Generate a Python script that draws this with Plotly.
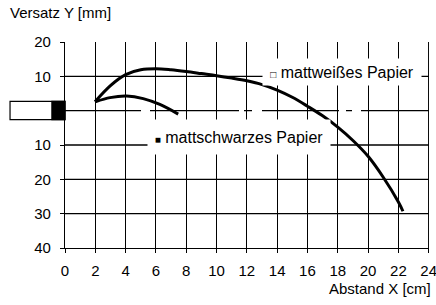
import plotly.graph_objects as go

# ---- data ----
white_x = [1.98, 3.0, 4.0, 5.0, 6.0, 7.0, 8.0, 9.0, 10.0, 11.0, 12.0, 13.0, 14.0, 15.0, 16.0,
           17.0, 18.0, 19.0, 20.0, 21.0, 22.0, 22.3]
white_y = [2.6, 7.3, 10.5, 11.9, 12.2, 11.9, 11.4, 10.8, 10.2, 9.5, 8.7, 7.6, 6.0, 3.9, 1.3,
           -1.5, -4.8, -8.7, -13.3, -19.4, -26.6, -29.3]
black_x = [2.0, 2.97, 4.07, 5.16, 6.26, 7.47]
black_y = [2.6, 3.8, 4.25, 3.5, 1.8, -1.0]

x_ticks = [0, 2, 4, 6, 8, 10, 12, 14, 16, 18, 20, 22, 24]
y_ticks = [20, 10, 0, -10, -20, -30, -40]
y_ticktext = ["20", "10", "", "10", "20", "30", "40"]
h_grid = [10, -10, -20, -30]
x_right = 24

label_white = "<span style='font-size:10px'>□</span> mattweißes Papier"
label_black = "<span style='font-size:10px'>■</span> mattschwarzes Papier"

FONT = "Liberation Sans, Arial, sans-serif"

fig = go.Figure()
fig.add_trace(go.Scatter(x=white_x, y=white_y, mode="lines",
                         line=dict(color="black", width=3, shape="spline", smoothing=1.0),
                         showlegend=False, hoverinfo="skip"))
fig.add_trace(go.Scatter(x=black_x, y=black_y, mode="lines",
                         line=dict(color="black", width=3, shape="spline", smoothing=0.9),
                         showlegend=False, hoverinfo="skip"))

shapes = []
for gy in h_grid:
    shapes.append(dict(type="line", xref="paper", x0=0, x1=1, yref="y", y0=gy, y1=gy,
                       line=dict(color="black", width=1.3), layer="below"))
# right border gridline
shapes.append(dict(type="line", xref="x", x0=x_right, x1=x_right, yref="paper", y0=0, y1=1,
                   line=dict(color="black", width=1.3), layer="below"))
# dashed zero line
shapes.append(dict(type="line", xref="paper", x0=0, x1=1, yref="y", y0=0, y1=0,
                   line=dict(color="black", width=1.3,
                             dash="76px,9px,89px,5px,8px,10px,77px,7px,6px,9px,68px,100px"),
                   layer="below"))
# sensor symbol left of the axis
shapes.append(dict(type="rect", xref="paper", x0=-0.151, x1=0, yref="y", y0=-2.6, y1=2.7,
                   line=dict(color="black", width=1.2), fillcolor="white", layer="above"))
shapes.append(dict(type="rect", xref="paper", x0=-0.036, x1=0, yref="y", y0=-2.6, y1=2.7,
                   line=dict(color="black", width=1.2), fillcolor="black", layer="above"))

annotations = [
    dict(x=18.3, y=11.3, xref="x", yref="y", text=label_white, showarrow=False,
         bgcolor="white", width=156, height=24, borderpad=1,
         font=dict(family=FONT, size=16, color="black")),
    dict(x=11.45, y=-7.7, xref="x", yref="y", text=label_black, showarrow=False,
         bgcolor="white", width=180, height=32, borderpad=1,
         font=dict(family=FONT, size=16, color="black")),
    dict(x=0, y=1, xref="paper", yref="paper", xanchor="left", yanchor="bottom",
         text="Versatz Y [mm]", showarrow=False, xshift=-57, yshift=19,
         font=dict(family=FONT, size=15, color="black")),
    dict(x=1, y=0, xref="paper", yref="paper", xanchor="right", yanchor="top",
         text="Abstand X [cm]", showarrow=False, xshift=4, yshift=-30,
         font=dict(family=FONT, size=15, color="black")),
]

fig.update_layout(
    width=436, height=305,
    margin=dict(l=65, r=7, t=42, b=57, autoexpand=False),
    paper_bgcolor="white", plot_bgcolor="white",
    font=dict(family=FONT, size=15, color="black"),
    shapes=shapes, annotations=annotations,
    xaxis=dict(range=[0, 24.02], tickvals=x_ticks, ticktext=[str(v) for v in x_ticks],
               showgrid=True, gridcolor="black", gridwidth=1.3,
               showline=True, linecolor="black", linewidth=1.3,
               ticks="outside", ticklen=4, tickcolor="black", tickwidth=1.3,
               ticklabelstandoff=5, ticklabeloverflow="allow",
               zeroline=False, fixedrange=True),
    yaxis=dict(range=[-40, 20], tickvals=y_ticks, ticktext=y_ticktext,
               showgrid=False, showline=True, linecolor="black", linewidth=1.3,
               ticks="outside", ticklen=4, tickcolor="black", tickwidth=1.3,
               ticklabelstandoff=6, zeroline=False, fixedrange=True),
)

fig.write_html("out.html", config={"displayModeBar": False},
               post_script="document.body.style.margin='0px';document.body.style.padding='0px';")
